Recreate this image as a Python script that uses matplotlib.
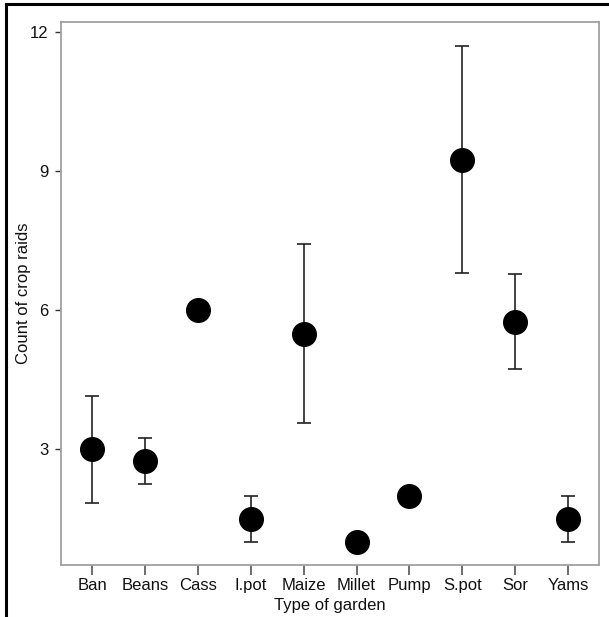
import matplotlib
matplotlib.use("Agg")
import matplotlib.pyplot as plt
from matplotlib.lines import Line2D
import numpy as np

gardens = ["Ban", "Beans", "Cass", "I.pot", "Maize", "Millet",
           "Pump", "S.pot", "Sor", "Yams"]
mean_raids = [3.0, 2.74, 6.0, 1.5, 5.5, 1.0, 2.0, 9.25, 5.74, 1.5]
err_low = [1.85, 2.25, 6.0, 1.0, 3.57, 1.0, 2.0, 6.8, 4.74, 1.0]
err_high = [4.15, 3.25, 6.0, 2.0, 7.43, 1.0, 2.0, 11.7, 6.78, 2.0]
y_ticks = [3, 6, 9, 12]

plt.rcParams["font.family"] = ["Liberation Sans", "DejaVu Sans"]

fig = plt.figure(figsize=(6.09, 6.17), dpi=100)
ax = fig.add_axes([0.100, 0.084, 0.884, 0.880])

x = np.arange(len(gardens))
mean = np.array(mean_raids)
lo = mean - np.array(err_low)
hi = np.array(err_high) - mean
has_err = (lo > 0) | (hi > 0)

ax.errorbar(x[has_err], mean[has_err], yerr=[lo[has_err], hi[has_err]],
            fmt="none", ecolor="#222222", elinewidth=1.2, capsize=5,
            capthick=1.2, zorder=2)
ax.plot(x, mean, "o", color="black", markersize=17, zorder=3)

ax.set_xlim(-0.59, 9.59)
ax.set_ylim(0.5, 12.22)
ax.set_xticks(x)
ax.set_xticklabels(gardens)
ax.set_yticks(y_ticks)

for sp in ax.spines.values():
    sp.set_color("#a0a0a0")
    sp.set_linewidth(1.3)

ax.tick_params(axis="x", length=7, width=1.2, color="#555555",
               labelsize=12, pad=2, labelcolor="#111111")
ax.tick_params(axis="y", length=4, width=1, color="#333333",
               labelsize=12, pad=5, labelcolor="#111111")

ax.set_xlabel("Type of garden", fontsize=12, labelpad=4, color="#111111")
ax.set_ylabel("Count of crop raids", fontsize=12, color="#111111")
ax.yaxis.set_label_coords(-0.056, 0.5)

# black frame left and top, as in the cropped screenshot
fig.add_artist(Line2D([6 / 609, 6 / 609], [0, 1 - 4 / 617],
                      transform=fig.transFigure, color="black", lw=2.2))
fig.add_artist(Line2D([6 / 609, 1], [1 - 4 / 617, 1 - 4 / 617],
                      transform=fig.transFigure, color="black", lw=2.2))

fig.savefig("out.png", dpi=100)
